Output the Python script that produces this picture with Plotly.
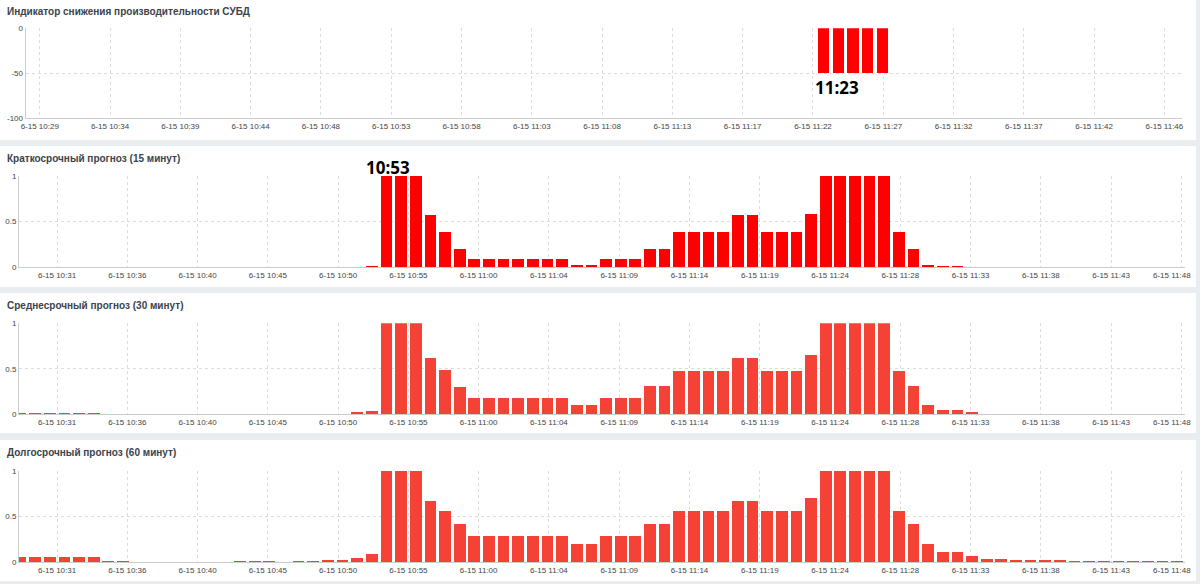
"""Панель мониторинга СУБД: индикатор и три прогноза (plotly)."""
import pandas as pd
import plotly.graph_objects as go

# --- данные -------------------------------------------------------------
indicator_times = ["2023-06-15 11:23:12", "2023-06-15 11:24:12", "2023-06-15 11:25:12",
                   "2023-06-15 11:26:12", "2023-06-15 11:27:12"]
indicator_values = [-50, -50, -50, -50, -50]

# отсчёты прогнозов, раз в минуту, 10:28 .. 11:47
forecast_times = pd.date_range("2023-06-15 10:28:48", periods=80, freq="min")

short_values = [
    0, 0, 0, 0, 0, 0, 0, 0, 0, 0, 0, 0, 0, 0, 0, 0, 0, 0, 0, 0, 0, 0, 0, 0,
    0.01, 1, 1, 1, 0.57, 0.39, 0.2, 0.09, 0.09, 0.09, 0.09, 0.09, 0.09, 0.09,
    0.03, 0.03, 0.09, 0.09, 0.09, 0.2, 0.2, 0.39, 0.39, 0.39, 0.39, 0.57, 0.57,
    0.39, 0.39, 0.39, 0.585, 1, 1, 1, 1, 1, 0.39, 0.2, 0.03, 0.01, 0.01,
    0, 0, 0, 0, 0, 0, 0, 0, 0, 0, 0, 0, 0, 0, 0,
]
medium_values = [
    0.01, 0.01, 0.01, 0.01, 0.01, 0.01, 0, 0, 0, 0, 0, 0, 0, 0, 0, 0, 0, 0, 0, 0, 0, 0, 0,
    0.015, 0.037, 1, 1, 1, 0.615, 0.48, 0.3, 0.175, 0.175, 0.175, 0.175, 0.175, 0.175, 0.175,
    0.1, 0.1, 0.175, 0.175, 0.175, 0.31, 0.31, 0.475, 0.475, 0.475, 0.475, 0.615, 0.615,
    0.475, 0.475, 0.475, 0.645, 1, 1, 1, 1, 1, 0.475, 0.31, 0.1, 0.045, 0.045, 0.012,
    0, 0, 0, 0, 0, 0, 0, 0, 0, 0, 0, 0, 0, 0,
]
long_values = [
    0.058, 0.058, 0.058, 0.058, 0.058, 0.058, 0.015, 0.015, 0, 0, 0, 0, 0, 0, 0,
    0.012, 0.012, 0.012, 0, 0.012, 0.012, 0.025, 0.025, 0.047,
    0.095, 1, 1, 1, 0.67, 0.56, 0.415, 0.29, 0.29, 0.29, 0.29, 0.29, 0.29, 0.29,
    0.2, 0.2, 0.29, 0.29, 0.29, 0.415, 0.415, 0.56, 0.56, 0.56, 0.56, 0.67, 0.67,
    0.56, 0.56, 0.56, 0.7, 1, 1, 1, 1, 1, 0.56, 0.415, 0.2, 0.117, 0.117, 0.066,
    0.04, 0.04, 0.025, 0.025, 0.025, 0.025,
    0.015, 0.015, 0.015, 0.015, 0.015, 0.015, 0.015, 0.015,
]

indicator_ticks = ["6-15 10:29", "6-15 10:34", "6-15 10:39", "6-15 10:44", "6-15 10:48",
                   "6-15 10:53", "6-15 10:58", "6-15 11:03", "6-15 11:08", "6-15 11:13",
                   "6-15 11:17", "6-15 11:22", "6-15 11:27", "6-15 11:32", "6-15 11:37",
                   "6-15 11:42", "6-15 11:46"]
forecast_ticks = ["6-15 10:31", "6-15 10:36", "6-15 10:40", "6-15 10:45", "6-15 10:50",
                  "6-15 10:55", "6-15 11:00", "6-15 11:04", "6-15 11:09", "6-15 11:14",
                  "6-15 11:19", "6-15 11:24", "6-15 11:28", "6-15 11:33", "6-15 11:38",
                  "6-15 11:43", "6-15 11:48"]

titles = ["Индикатор снижения производительности СУБД",
          "Краткосрочный прогноз (15 минут)",
          "Среднесрочный прогноз (30 минут)",
          "Долгосрочный прогноз (60 минут)"]

# --- оформление ---------------------------------------------------------
W, H = 1200, 584
FONT = "Liberation Sans, Arial, sans-serif"
BG = "#e9edf0"
GRID = "#dcdcdc"
AXIS = "#cccccc"
TICK_FONT = dict(family=FONT, size=8, color="#444")

# позиции панелей в пикселях: (верх белой плашки, низ плашки, y оси 1/0, y оси 0/-100)
panels = [(0, 140, 28.3, 118.3), (146, 287, 175.7, 267),
          (293, 433, 323.3, 414.3), (440, 581, 471, 562.3)]


def py(px):
    return 1 - px / H


fig = go.Figure()

fig.add_trace(go.Bar(
    x=indicator_times, y=indicator_values, width=46000,
    marker=dict(color="#ff0000", line=dict(width=0)),
    xaxis="x", yaxis="y", showlegend=False,
))
series = [(short_values, "#ff0000"), (medium_values, "#f44336"), (long_values, "#f44336")]
for i, (vals, color) in enumerate(series, start=2):
    fig.add_trace(go.Bar(
        x=forecast_times, y=vals, width=48000,
        marker=dict(color=color, line=dict(width=0)),
        xaxis=f"x{i}", yaxis=f"y{i}", showlegend=False,
    ))

shapes, annotations = [], []
layout = {}
for i, (top, bottom, y_hi, y_lo) in enumerate(panels, start=1):
    sfx = "" if i == 1 else str(i)
    shapes.append(dict(type="rect", xref="paper", yref="paper", layer="below",
                       x0=0, x1=1196 / W, y0=py(bottom), y1=py(top),
                       fillcolor="white", line_width=0))
    annotations.append(dict(text=f"<b>{titles[i - 1]}</b>", xref="paper", yref="paper",
                            x=5 / W, y=py(top + 12), xanchor="left", yanchor="middle",
                            showarrow=False, font=dict(family=FONT, size=10, color="#3a434c")))
    if i == 1:
        start, rng = "2023-06-15 10:29:42", ["2023-06-15 10:28:44", "2023-06-15 11:47:42"]
        x_dom, ticks = [25.6 / W, 1182 / W], list(indicator_ticks)
        y_kw = dict(range=[-100, 0], tickvals=[0, -50, -100], ticktext=["0", "-50", "-100"])
    else:
        start, rng = "2023-06-15 10:31:18", ["2023-06-15 10:28:42", "2023-06-15 11:48:20"]
        x_dom, ticks = [19 / W, 1184.8 / W], list(forecast_ticks)
        # крайнюю подпись ставим отдельно, прижатой к правому краю панели
        annotations.append(dict(text=ticks[-1], xref="paper", yref="paper",
                                x=1193 / W, y=py(y_lo + 8.5), xanchor="right",
                                yanchor="middle", showarrow=False, font=TICK_FONT))
        ticks[-1] = ""
        y_kw = dict(range=[0, 1], tickvals=[0, 0.5, 1], ticktext=["0", "0.5", "1"])
    tickvals = pd.date_range(start, periods=len(ticks), freq="288s")
    layout[f"xaxis{sfx}"] = dict(
        type="date", domain=x_dom, range=rng, anchor=f"y{sfx}",
        tickvals=tickvals, ticktext=ticks, ticks="",
        tickfont=TICK_FONT,
        showgrid=True, gridcolor=GRID, griddash="dot", gridwidth=1,
        showline=True, linecolor=AXIS, linewidth=1, zeroline=False, fixedrange=True,
    )
    layout[f"yaxis{sfx}"] = dict(
        domain=[py(y_lo), py(y_hi)], anchor=f"x{sfx}", ticks="",
        tickfont=TICK_FONT,
        showgrid=True, gridcolor=GRID, griddash="dot", gridwidth=1,
        showline=True, linecolor=AXIS, linewidth=1, zeroline=False, fixedrange=True,
        **y_kw,
    )

# пометки времени
for label, x_px, y_px in [("11:23", 837, 88), ("10:53", 388, 167)]:
    annotations.append(dict(text=f"<b>{label}</b>", xref="paper", yref="paper",
                            x=x_px / W, y=py(y_px), xanchor="center", yanchor="middle",
                            showarrow=False,
                            font=dict(family="Noto Sans", size=17, color="black")))

fig.update_layout(
    width=W, height=H, margin=dict(l=0, r=0, t=0, b=0, autoexpand=False),
    paper_bgcolor=BG, plot_bgcolor="rgba(0,0,0,0)",
    bargap=0, shapes=shapes, annotations=annotations, showlegend=False,
    **layout,
)

fig.write_html("out.html", config={"displayModeBar": False},
               post_script="document.body.style.margin='0';")
